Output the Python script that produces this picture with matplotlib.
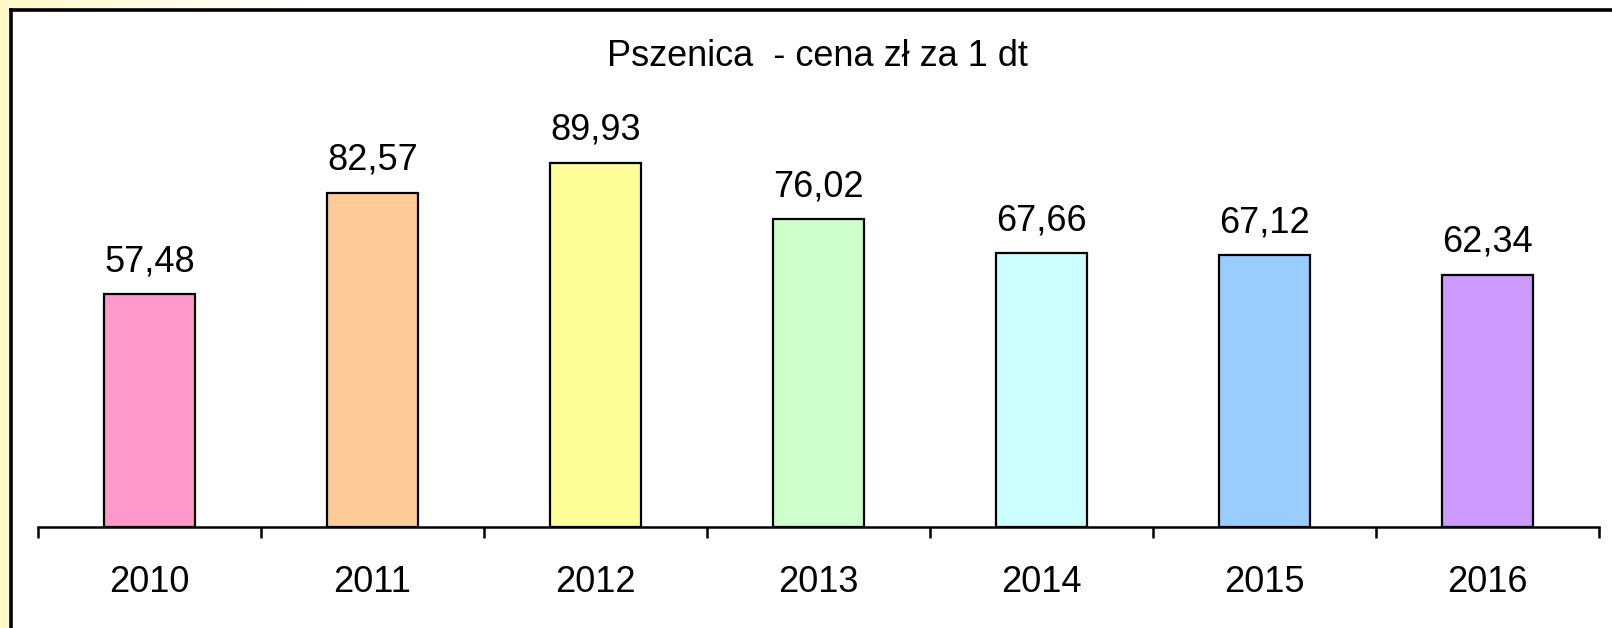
import numpy as np
import matplotlib
matplotlib.use("Agg")
import matplotlib.pyplot as plt
from matplotlib.lines import Line2D
from matplotlib.patches import Rectangle

plt.rcParams['font.family'] = ['Liberation Sans', 'DejaVu Sans']

title = "Pszenica  - cena zł za 1 dt"
years = ["2010", "2011", "2012", "2013", "2014", "2015", "2016"]
prices = [57.48, 82.57, 89.93, 76.02, 67.66, 67.12, 62.34]
labels = ["57,48", "82,57", "89,93", "76,02", "67,66", "67,12", "62,34"]
colors = ["#FF99CC", "#FFCC99", "#FFFF99", "#CCFFCC", "#CCFFFF", "#99CCFF", "#CC99FF"]

W, H = 1612, 628
fig = plt.figure(figsize=(W / 100, H / 100), dpi=100)
fig.patch.set_facecolor("white")

# background decoration: pale yellow outside the frame
bg = fig.add_axes([0, 0, 1, 1], zorder=-10)
yy, xx = np.mgrid[0:H, 0:W]
fade = np.clip(1 - xx / 300.0, 0, 1)
img = np.ones((H, W, 3))
img[..., 2] = 1 - 0.22 * fade
img[..., 1] = 1 - 0.02 * fade
bg.imshow(img, extent=[0, W, H, 0], aspect='auto')
bg.add_patch(Rectangle((10, 10), W, H, facecolor='white', edgecolor='none'))
bg.set_xlim(0, W)
bg.set_ylim(H, 0)
bg.axis('off')

# frame
fig.add_artist(Line2D([10.5 / W, 10.5 / W], [0, 1 - 9.5 / H], transform=fig.transFigure,
                      color='black', lw=2.6, solid_capstyle='projecting'))
fig.add_artist(Line2D([10.5 / W, 1.01], [1 - 9.5 / H, 1 - 9.5 / H], transform=fig.transFigure,
                      color='black', lw=2.6, solid_capstyle='projecting'))

left, right = 38 / W, 1599 / W
bottom, top = (H - 527) / H, (H - 122) / H
ax = fig.add_axes([left, bottom, right - left, top - bottom])
ax.patch.set_alpha(0)

x = np.arange(len(years))
ax.bar(x, prices, width=0.41, color=colors, edgecolor='black', linewidth=1.6, zorder=3)
for xi, v, lab in zip(x, prices, labels):
    ax.annotate(lab, (xi, v), xytext=(0, 16.5), textcoords='offset points',
                ha='center', va='baseline', fontsize=26)

ax.set_xlim(-0.5, len(years) - 0.5)
ax.set_ylim(0, 100)
for s in ['top', 'right', 'left']:
    ax.spines[s].set_visible(False)
ax.spines['bottom'].set_linewidth(1.8)
ax.set_yticks([])
ax.set_xticks(x)
ax.set_xticklabels(years, fontsize=26)
ax.tick_params(axis='x', which='major', length=0, pad=27)
ax.set_xticks(np.arange(-0.5, len(years)), minor=True)
ax.tick_params(axis='x', which='minor', length=8, width=1.8, direction='out')

fig.text(817 / W, 1 - 56 / H, title, ha='center', va='center', fontsize=26)

fig.savefig("out.png", dpi=100)
